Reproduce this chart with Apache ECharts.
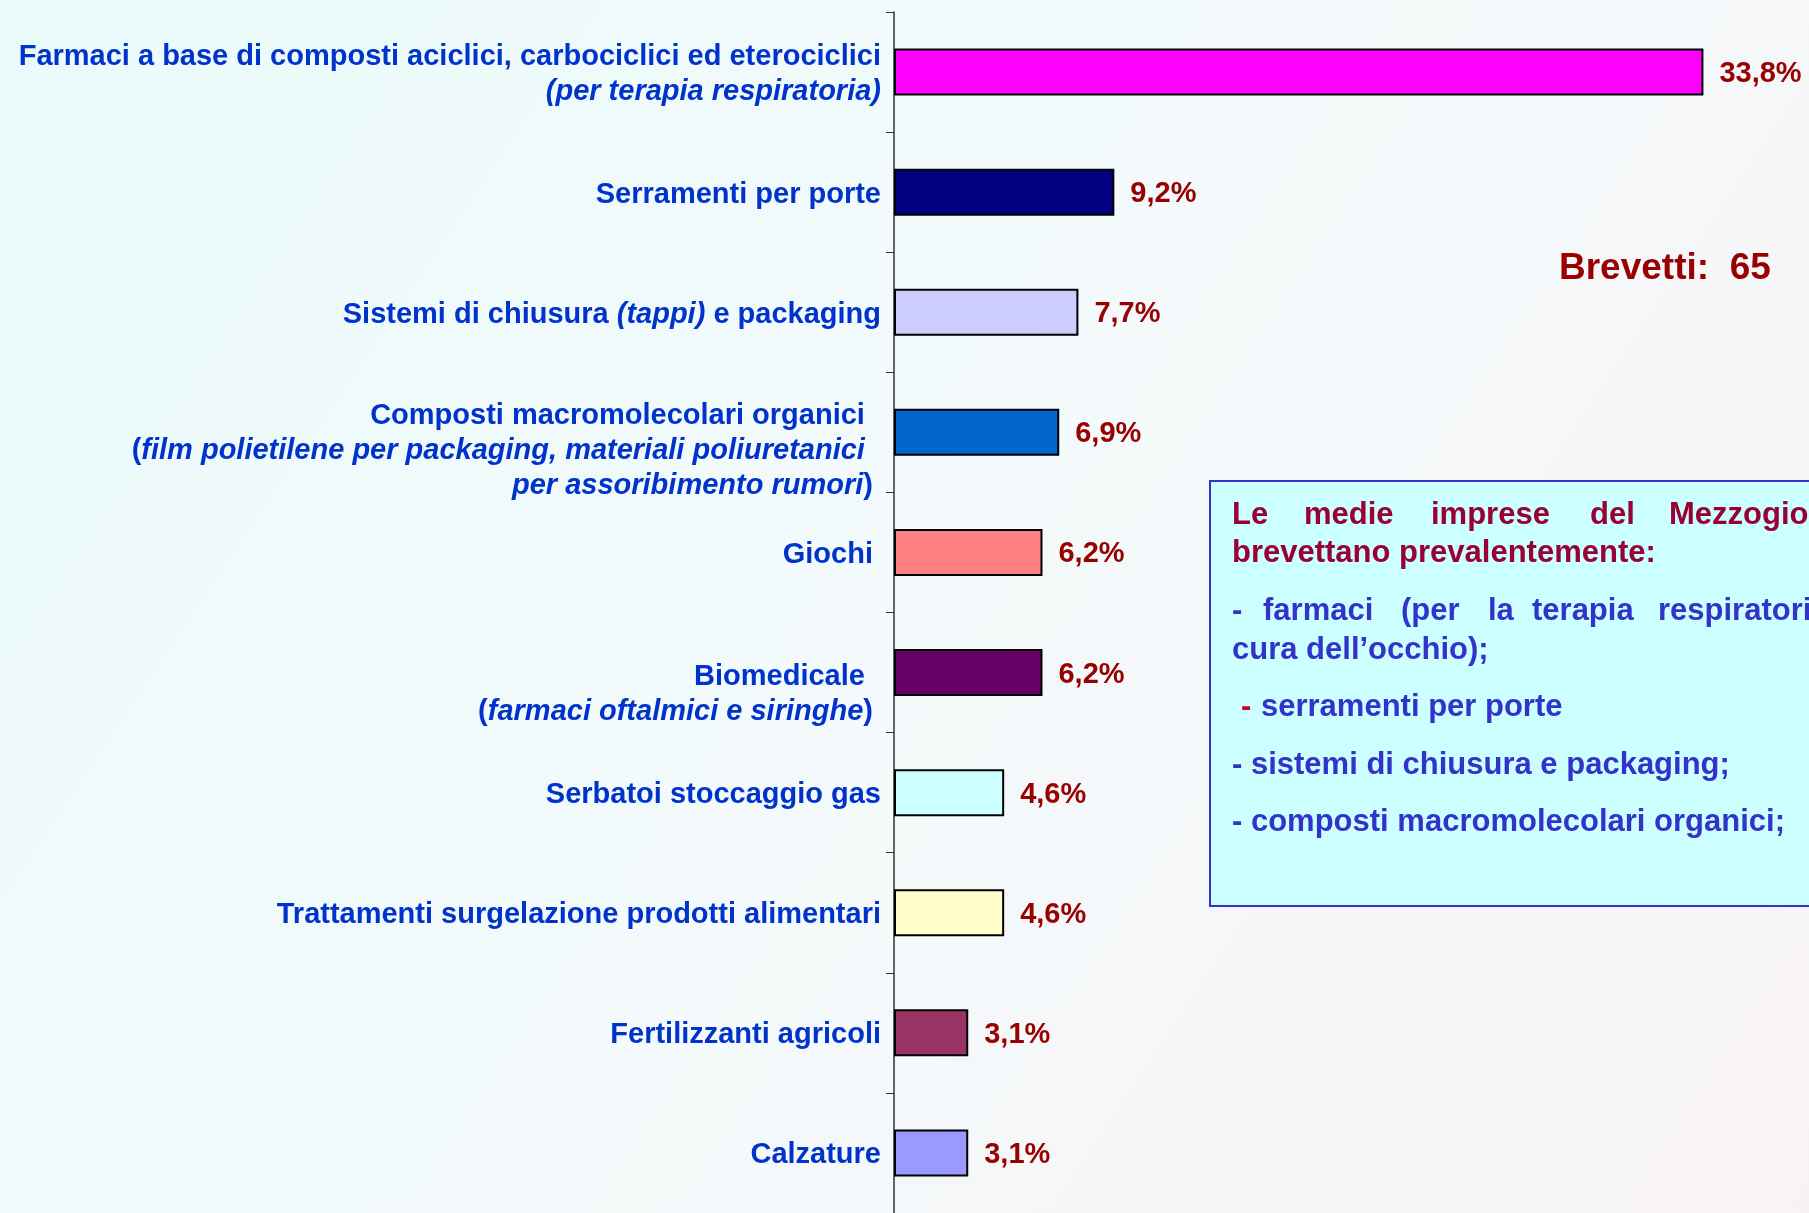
<!DOCTYPE html>
<html>
<head>
<meta charset="utf-8">
<script src="https://cdn.jsdelivr.net/npm/echarts@6/dist/echarts.min.js"></script>
<style>
  html, body { margin: 0; padding: 0; }
  #chart { width: 1809px; height: 1213px; }
</style>
</head>
<body>
<div id="chart"></div>
<script>
// categorie (con markup rich per le parti in corsivo)
const categories = [
    'Farmaci a base di composti aciclici, carbociclici ed eterociclici\n{i|(per terapia respiratoria)}',
    'Serramenti per porte',
    'Sistemi di chiusura {i|(tappi)} e packaging',
    'Composti macromolecolari organici  \n({i|film polietilene per packaging, materiali poliuretanici}  \n{i|per assoribimento rumori}) ',
    'Giochi ',
    'Biomedicale  \n({i|farmaci oftalmici e siringhe}) ',
    'Serbatoi stoccaggio gas',
    'Trattamenti surgelazione prodotti alimentari',
    'Fertilizzanti agricoli',
    'Calzature'
];
const values = [33.8, 9.2, 7.7, 6.9, 6.2, 6.2, 4.6, 4.6, 3.1, 3.1];
const barColors = ['#FF00FF', '#000080', '#CCCCFF', '#0066CC', '#FF8080',
    '#660066', '#CCFFFF', '#FFFFCC', '#993366', '#9999FF'];
const totalText = 'Brevetti:  65';

const FONT = '"Liberation Sans", Arial, sans-serif';
const labelShift = [5, 5, 5, 37, 5, 44, 5, 5, 5, 5]; // spostamento verticale etichette

const mychart = echarts.init(document.getElementById('chart'));

// testo del riquadro (parole giustificate posizionate una per una)
const boxText = (text, x, y, color) => ({
    type: 'text',
    z: 10,
    style: {
        text: text, x: x, y: y + 2,
        fill: color,
        font: 'bold 31px ' + FONT,
        textVerticalAlign: 'middle', verticalAlign: 'middle',
        textShadowColor: 'rgba(0,0,0,0.35)', textShadowOffsetX: 2, textShadowOffsetY: 2
    }
});
const RED = '#990033', BLUE = '#3333CC';

let option = {
    backgroundColor: new echarts.graphic.LinearGradient(0, 0, 1, 1, [
        { offset: 0, color: '#eafafa' },
        { offset: 0.5, color: '#f4fafb' },
        { offset: 1, color: '#f7f2f6' }
    ]),
    animation: false,
    grid: {
        top: 12,
        left: 894,
        right: 5,
        bottom: -5
    },
    xAxis: {
        type: 'value',
        min: 0,
        max: 38,
        show: false
    },
    yAxis: {
        type: 'category',
        inverse: true,
        data: categories.map((c, i) => ({
            value: c,
            textStyle: { padding: [labelShift[i], 0, 0, 0] }
        })),
        axisLine: {
            show: true,
            lineStyle: { color: '#333333', width: 1.5 }
        },
        axisTick: {
            show: true,
            length: 8,
            lineStyle: { color: '#333333' }
        },
        axisLabel: {
            margin: 13,
            color: '#0033CC',
            fontSize: 29,
            fontWeight: 'bold',
            fontFamily: FONT,
            lineHeight: 35,
            align: 'right',
            textShadowColor: 'rgba(0,0,0,0.2)',
            textShadowOffsetX: 1.5,
            textShadowOffsetY: 1.5,
            rich: {
                i: {
                    color: '#0033CC',
                    fontSize: 29,
                    fontWeight: 'bold',
                    fontStyle: 'italic',
                    fontFamily: FONT,
                    lineHeight: 35,
                    textShadowColor: 'rgba(0,0,0,0.2)',
                    textShadowOffsetX: 1.5,
                    textShadowOffsetY: 1.5
                }
            }
        }
    },
    series: [
        {
            type: 'bar',
            barWidth: 47,
            data: values.map((v, i) => ({ value: v, itemStyle: { color: barColors[i] } })),
            itemStyle: {
                borderColor: '#000000',
                borderWidth: 2
            },
            label: {
                show: true,
                position: 'right',
                distance: 16,
                offset: [0, 2],
                color: '#990000',
                fontSize: 29,
                fontWeight: 'bold',
                fontFamily: FONT,
                textShadowColor: 'rgba(0,0,0,0.2)',
                textShadowOffsetX: 1.5,
                textShadowOffsetY: 1.5,
                formatter: p => String(p.value).replace('.', ',') + '%'
            }
        }
    ],
    graphic: [
        {
            type: 'text',
            z: 10,
            style: {
                text: totalText, x: 1559, y: 269,
                fill: '#990000',
                font: 'bold 37px ' + FONT,
                textVerticalAlign: 'middle', verticalAlign: 'middle',
                textShadowColor: 'rgba(0,0,0,0.25)', textShadowOffsetX: 2, textShadowOffsetY: 2
            }
        },
        {
            type: 'rect',
            z: 5,
            shape: { x: 1210, y: 481, width: 640, height: 425 },
            style: { fill: '#CCFFFF', stroke: '#3333CC', lineWidth: 2 }
        },
        boxText('Le', 1232, 513, RED),
        boxText('medie', 1304, 513, RED),
        boxText('imprese', 1431, 513, RED),
        boxText('del', 1590, 513, RED),
        boxText('Mezzogiorno', 1669, 513, RED),
        boxText('brevettano prevalentemente:', 1232, 551, RED),
        boxText('-', 1232, 609, BLUE),
        boxText('farmaci', 1263, 609, BLUE),
        boxText('(per', 1401, 609, BLUE),
        boxText('la', 1488, 609, BLUE),
        boxText('terapia', 1532, 609, BLUE),
        boxText('respiratoria e la', 1658, 609, BLUE),
        boxText('cura dell\u2019occhio);', 1232, 648, BLUE),
        boxText('-', 1241, 705, '#CC0033'),
        boxText('serramenti per porte', 1261, 705, BLUE),
        boxText('- sistemi di chiusura e packaging;', 1232, 763, BLUE),
        boxText('- composti macromolecolari organici;', 1232, 820, BLUE)
    ]
};
mychart.setOption(option);
window.addEventListener('resize', () => {
    mychart.resize();
});
</script>
</body>
</html>
